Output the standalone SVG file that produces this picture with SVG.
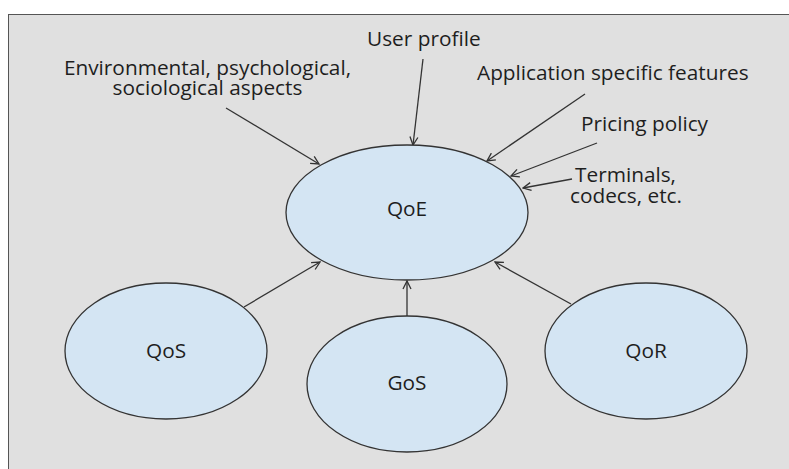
<svg xmlns="http://www.w3.org/2000/svg" width="789" height="469" viewBox="0 0 789 469">
<style>
.n{fill:#d4e5f3;stroke:#333;stroke-width:1.3}
.t{font-family:"Open Sans","Liberation Sans",sans-serif;font-size:20.8px;fill:#1e1e1e}
.c{stroke:#333;stroke-width:1.3;fill:none;marker-end:url(#a)}
</style>
<defs>
<marker id="a" viewBox="0 0 10 10" refX="9" refY="5" markerWidth="10" markerHeight="10" markerUnits="userSpaceOnUse" orient="auto">
<path d="M1,1 L9,5 L1,9" fill="none" stroke="#333" stroke-width="1.3"/>
</marker>
</defs>
<rect x="0" y="0" width="789" height="469" fill="#fff"/>
<rect x="8.5" y="14.5" width="790" height="470" fill="#e0e0e0" stroke="#555" stroke-width="1"/>
<g id="connectors">
<line class="c" x1="226" y1="108" x2="319" y2="164"/>
<line class="c" x1="423" y1="59" x2="413" y2="145"/>
<line class="c" x1="585" y1="94" x2="487" y2="161"/>
<line class="c" x1="597" y1="143" x2="511" y2="176"/>
<line class="c" x1="572" y1="179" x2="523" y2="188"/>
<line class="c" x1="244" y1="307" x2="320" y2="262"/>
<line class="c" x1="407" y1="316" x2="407" y2="281"/>
<line class="c" x1="571" y1="304" x2="495" y2="262"/>
</g>
<g id="labels">
<text class="t" x="207.5" y="75" text-anchor="middle">Environmental, psychological,</text>
<text class="t" x="207.5" y="95" text-anchor="middle">sociological aspects</text>
<text class="t" x="367" y="46">User profile</text>
<text class="t" x="477" y="80">Application specific features</text>
<text class="t" x="581" y="131">Pricing policy</text>
<text class="t" x="575" y="182">Terminals,</text>
<text class="t" x="570" y="203">codecs, etc.</text>
</g>
<g id="QoE">
<ellipse class="n" cx="407" cy="212.5" rx="121" ry="67.5"/>
<text class="t" x="407" y="216" text-anchor="middle">QoE</text>
</g>
<g id="QoS">
<ellipse class="n" cx="166" cy="351" rx="101" ry="68"/>
<text class="t" x="166" y="358" text-anchor="middle">QoS</text>
</g>
<g id="GoS">
<ellipse class="n" cx="407" cy="384" rx="100" ry="68"/>
<text class="t" x="407" y="390" text-anchor="middle">GoS</text>
</g>
<g id="QoR">
<ellipse class="n" cx="646" cy="351" rx="101" ry="68"/>
<text class="t" x="646" y="358" text-anchor="middle">QoR</text>
</g>
</svg>
